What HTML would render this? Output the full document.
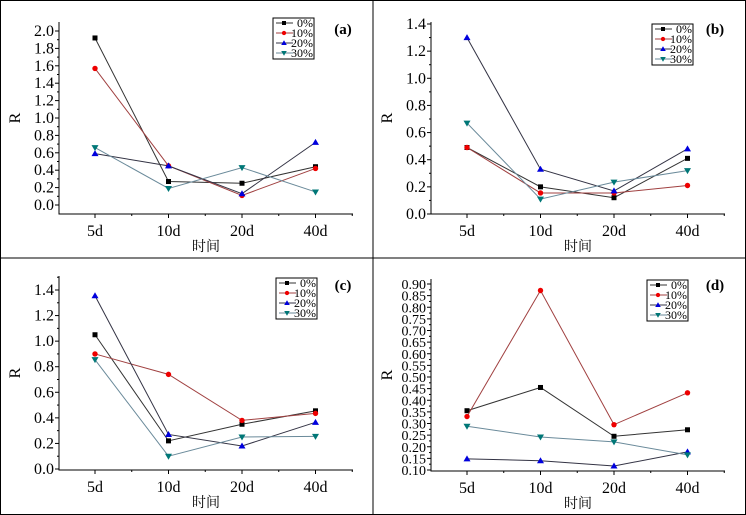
<!DOCTYPE html>
<html><head><meta charset="utf-8"><style>
html,body{margin:0;padding:0;background:#fff}
svg{display:block}
text{font-family:"Liberation Serif","Times New Roman",serif}
text.cjk{font-family:"Liberation Serif","Noto Serif CJK SC","Noto Sans CJK SC",serif}
</style></head><body>
<svg id="c" width="746" height="515" viewBox="0 0 746 515">
<rect x="0.5" y="0.5" width="745" height="514" fill="#fff" stroke="#000"/>
<line x1="373" y1="0" x2="373" y2="515" stroke="#000"/>
<line x1="0" y1="258" x2="746" y2="258" stroke="#000"/>
</svg>
<script>
const categories=["5d","10d","20d","40d"];
const seriesNames=["0%","10%","20%","30%"];
const a0=[1.92,0.27,0.25,0.44], a1=[1.57,0.45,0.11,0.42], a2=[0.59,0.45,0.13,0.72], a3=[0.66,0.19,0.43,0.15];
const b0=[0.49,0.20,0.12,0.41], b1=[0.49,0.155,0.155,0.21], b2=[1.30,0.33,0.17,0.48], b3=[0.67,0.11,0.235,0.32];
const c0=[1.05,0.22,0.35,0.455], c1=[0.90,0.74,0.38,0.435], c2=[1.355,0.27,0.18,0.365], c3=[0.855,0.10,0.25,0.255];
const d0=[0.355,0.455,0.245,0.273], d1=[0.33,0.872,0.295,0.432], d2=[0.148,0.14,0.117,0.178], d3=[0.288,0.242,0.221,0.165];
const ticksA=[0,0.2,0.4,0.6,0.8,1.0,1.2,1.4,1.6,1.8,2.0];
const ticksB=[0,0.2,0.4,0.6,0.8,1.0,1.2,1.4];
const ticksD=[0.10,0.15,0.20,0.25,0.30,0.35,0.40,0.45,0.50,0.55,0.60,0.65,0.70,0.75,0.80,0.85,0.90];
const colors=["#000","#e00","#00d","#077"];
const lineColors=["#333","#a04040","#334","#6a8a9a"];
const NS="http://www.w3.org/2000/svg";
const svg=document.getElementById("c");
function mk(t,at,p){const e=document.createElementNS(NS,t);for(const k in at)e.setAttribute(k,at[k]);(p||svg).appendChild(e);return e;}
function marker(g,k,x,y,s){
 s=s||1;const c=colors[k];let e;
 if(k===0)e=mk("rect",{x:x-2.5*s,y:y-2.5*s,width:5*s,height:5*s,fill:c},g);
 else if(k===1)e=mk("circle",{cx:x,cy:y,r:2.7*s,fill:c},g);
 else if(k===2)e=mk("polygon",{points:`${x},${y-3.5*s} ${x-3.5*s},${y+2.5*s} ${x+3.5*s},${y+2.5*s}`,fill:c},g);
 else e=mk("polygon",{points:`${x},${y+3.5*s} ${x-3.5*s},${y-2.5*s} ${x+3.5*s},${y-2.5*s}`,fill:c},g);
 return e;
}
function panel(o){
 const g=mk("g",{});
 
 
 const L=o.left,R=o.left+294,B=o.bottom,T=o.top;
 const ys=v=>o.y0px+(v-o.v0)*(o.y1px-o.y0px)/(o.v1-o.v0);
 const xs=i=>L+36+i*73.5;
 const ax=mk("path",{d:`M${L},${T}V${B}H${R}`,fill:"none",stroke:"#000","stroke-width":1},g);
 
 
 const step=o.ticks[1]-o.ticks[0];
 o.ticks.forEach((t,i)=>{
  const y=ys(t);
  mk("line",{x1:L-4,y1:y,x2:L,y2:y,stroke:"#000"},g);
  if(i<o.ticks.length-1||o.ticksMinorTop){const ym=ys(t+step/2);if(ym>=T)mk("line",{x1:L-2,y1:ym,x2:L,y2:ym,stroke:"#000"},g);}
  const tx=mk("text",{x:L-5,y:y+5,"text-anchor":"end","font-size":o.fs||16},g);
  tx.textContent=o.fmt(t);
  
  
 });
 categories.forEach((c,i)=>{
  const x=xs(i);
  mk("line",{x1:x,y1:B,x2:x,y2:B+4,stroke:"#000"},g);
  mk("line",{x1:x+36.75,y1:B,x2:x+36.75,y2:B+2,stroke:"#000"},g);
  const tx=mk("text",{x:x,y:B+22,"text-anchor":"middle","font-size":16},g);
  tx.textContent=c;
  
  
 });
 const xt=mk("text",{x:L+147,y:B+37,"text-anchor":"middle","font-size":14,"class":"cjk"},g);
 xt.textContent="时间";
 
 
 const yt=mk("text",{x:0,y:0,"text-anchor":"middle","font-size":16,transform:`translate(${L-39},${(T+B)/2}) rotate(-90)`},g);
 yt.textContent="R";
 
 
 o.series.forEach((s,k)=>{
  const pts=s.map((v,i)=>xs(i)+","+ys(v)).join(" ");
  const pl=mk("polyline",{points:pts,fill:"none",stroke:lineColors[k],"stroke-width":1},g);
  
  
  s.forEach((v,i)=>{
   const m=marker(g,k,xs(i),ys(v));
   
   
  });
 });
 const lg=mk("g",{},g);
 
 
 mk("rect",{x:o.lx,y:o.ly,width:41,height:41,fill:"#fff",stroke:"#000"},lg);
 seriesNames.forEach((n,k)=>{
  const y=o.ly+5+k*10;
  mk("line",{x1:o.lx+3,y1:y,x2:o.lx+20,y2:y,stroke:lineColors[k]},lg);
  marker(lg,k,o.lx+11,y,0.8);
  const t=mk("text",{x:o.lx+40,y:y+4,"text-anchor":"end","font-size":12},lg);
  t.textContent=n;
  
  
 });
 const pt=mk("text",{x:o.px,y:o.py,"text-anchor":"middle","font-size":15,"font-weight":"bold"},g);
 pt.textContent="("+o.id+")";
 
 
}
const f1=v=>v.toFixed(1), f2=v=>v.toFixed(2);
panel({id:"a",left:59,bottom:214,top:22,v0:0,v1:2,y0px:205,y1px:31,ticks:ticksA,fmt:f1,series:[a0,a1,a2,a3],lx:273,ly:18,px:343,py:34});
panel({id:"b",left:431,bottom:214,top:22,v0:0,v1:1.4,y0px:214,y1px:24,ticks:ticksB,fmt:f1,series:[b0,b1,b2,b3],lx:652,ly:24,px:715,py:34});
panel({id:"c",left:59,bottom:470,top:276,v0:0,v1:1.4,y0px:469,y1px:290,ticks:ticksB,fmt:f1,ticksMinorTop:true,series:[c0,c1,c2,c3],lx:276,ly:278,px:343,py:290});
panel({id:"d",left:431,bottom:471,top:279,v0:0.1,v1:0.9,y0px:470,y1px:284,ticks:ticksD,fmt:f2,fs:14,series:[d0,d1,d2,d3],lx:647,ly:280,px:715,py:290});
</script>
</body></html>
